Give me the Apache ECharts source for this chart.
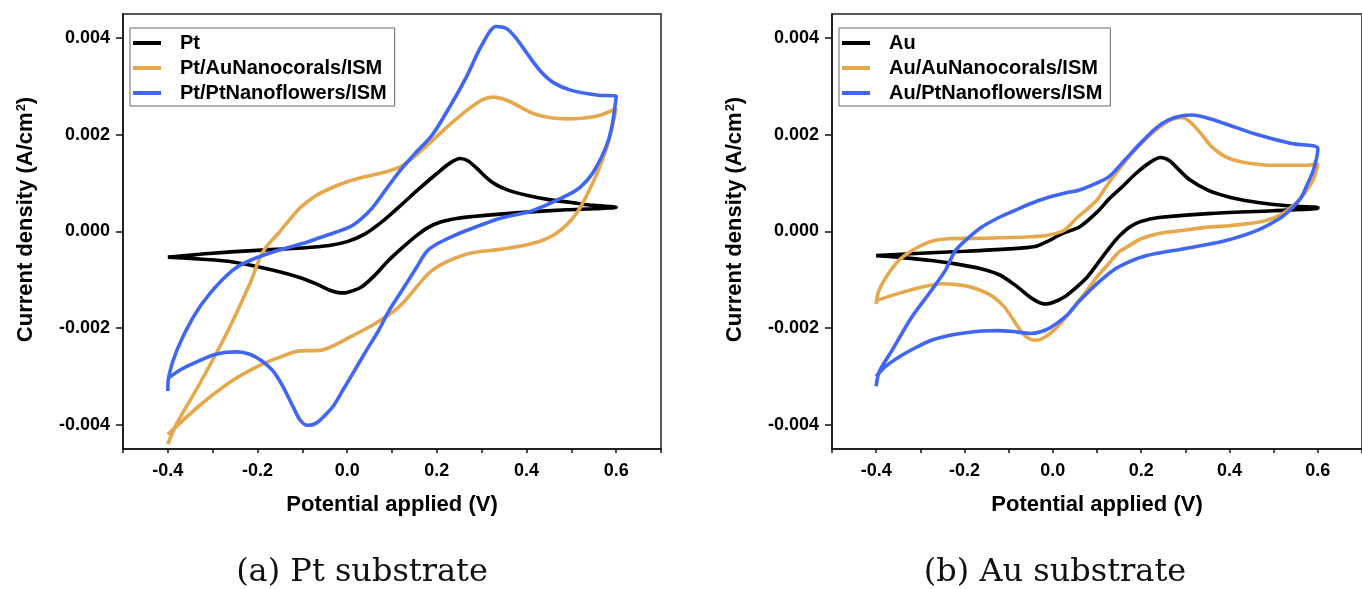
<!DOCTYPE html>
<html>
<head>
<meta charset="utf-8">
<script src="https://cdn.jsdelivr.net/npm/echarts@6.0.0/dist/echarts.min.js"></script>
<style>
  html, body { margin: 0; padding: 0; background: #fff; }
  #chart { width: 1362px; height: 589px; }
</style>
</head>
<body>
<div id="chart"></div>
<script>
// Axis ticks and labels
const xTickValues = [-0.5, -0.4, -0.3, -0.2, -0.1, 0, 0.1, 0.2, 0.3, 0.4, 0.5, 0.6, 0.7];
const xLabelValues = [-0.4, -0.2, 0, 0.2, 0.4, 0.6];
const yLabelValues = [-0.004, -0.002, 0, 0.002, 0.004];

const ptNames = ['Pt', 'Pt/AuNanocorals/ISM', 'Pt/PtNanoflowers/ISM'];
const auNames = ['Au', 'Au/AuNanocorals/ISM', 'Au/PtNanoflowers/ISM'];
const captions = ['(a) Pt substrate', '(b) Au substrate'];

// ---- (a) Pt substrate: [potential V, current density A/cm2] ----
const ptBareFwd = [[-0.40,-0.00053],[-0.30,-0.00045],[-0.20,-0.00039],[-0.10,-0.00034],[-0.04,-0.00029],[0.00,-0.00021],[0.04,-0.00005],[0.08,0.00022],[0.117,0.00052],[0.16,0.00088],[0.20,0.00120],[0.23,0.00142],[0.252,0.00151],[0.27,0.00146],[0.29,0.00130],[0.31,0.00112],[0.33,0.00098],[0.36,0.00085],[0.40,0.00075],[0.45,0.00066],[0.50,0.00060],[0.55,0.00054],[0.60,0.00050]];
const ptBareRev = [[0.60,0.00050],[0.55,0.00047],[0.489,0.00045],[0.40,0.00040],[0.34,0.00036],[0.28,0.00031],[0.244,0.00027],[0.21,0.00020],[0.18,0.00008],[0.15,-0.00012],[0.12,-0.00036],[0.09,-0.00062],[0.06,-0.00092],[0.03,-0.00116],[0.00,-0.00126],[-0.015,-0.00127],[-0.04,-0.00121],[-0.07,-0.00108],[-0.106,-0.00095],[-0.16,-0.00081],[-0.255,-0.00063],[-0.33,-0.00057],[-0.40,-0.00053]];

const ptCoralFwd = [[-0.40,-0.00440],[-0.38,-0.00397],[-0.329,-0.00315],[-0.269,-0.00211],[-0.217,-0.00108],[-0.188,-0.00042],[-0.15,0.00000],[-0.106,0.00048],[-0.07,0.00074],[-0.033,0.00091],[0.00,0.00103],[0.043,0.00114],[0.08,0.00122],[0.117,0.00133],[0.15,0.00155],[0.19,0.00188],[0.23,0.00222],[0.266,0.00250],[0.30,0.00272],[0.325,0.00278],[0.36,0.00270],[0.413,0.00245],[0.45,0.00236],[0.49,0.00233],[0.53,0.00235],[0.562,0.00240],[0.60,0.00254]];
const ptCoralRev = [[0.60,0.00254],[0.59,0.00212],[0.577,0.00168],[0.547,0.00099],[0.511,0.00037],[0.466,-0.00004],[0.413,-0.00025],[0.34,-0.00037],[0.266,-0.00047],[0.19,-0.00080],[0.117,-0.00155],[0.06,-0.00192],[0.005,-0.00219],[-0.03,-0.00236],[-0.061,-0.00246],[-0.106,-0.00247],[-0.15,-0.00260],[-0.195,-0.00277],[-0.255,-0.00308],[-0.329,-0.00360],[-0.40,-0.00420]];

const ptFlowerFwd = [[-0.40,-0.00330],[-0.398,-0.00300],[-0.38,-0.00246],[-0.344,-0.00178],[-0.306,-0.00128],[-0.255,-0.00080],[-0.217,-0.00060],[-0.157,-0.00040],[-0.10,-0.00025],[-0.068,-0.00015],[0.005,0.00009],[0.03,0.00025],[0.057,0.00050],[0.085,0.00085],[0.117,0.00125],[0.15,0.00160],[0.19,0.00200],[0.23,0.00260],[0.266,0.00320],[0.30,0.00385],[0.332,0.00424],[0.355,0.00420],[0.375,0.00402],[0.40,0.00370],[0.43,0.00333],[0.46,0.00308],[0.50,0.00292],[0.56,0.00282],[0.60,0.00280]];
const ptFlowerRev = [[0.60,0.00280],[0.59,0.00215],[0.577,0.00174],[0.547,0.00120],[0.52,0.00092],[0.489,0.00074],[0.413,0.00043],[0.34,0.00027],[0.266,0.00002],[0.23,-0.00012],[0.20,-0.00026],[0.177,-0.00042],[0.155,-0.00074],[0.125,-0.00118],[0.094,-0.00163],[0.07,-0.00205],[0.043,-0.00246],[0.015,-0.00290],[-0.01,-0.00329],[-0.03,-0.00360],[-0.046,-0.00377],[-0.07,-0.00397],[-0.088,-0.00401],[-0.105,-0.00390],[-0.122,-0.00360],[-0.145,-0.00318],[-0.166,-0.00288],[-0.19,-0.00268],[-0.217,-0.00254],[-0.245,-0.00249],[-0.269,-0.00250],[-0.30,-0.00256],[-0.329,-0.00267],[-0.37,-0.00285],[-0.40,-0.00304]];

// ---- (b) Au substrate ----
const auBareFwd = [[-0.40,-0.00050],[-0.30,-0.00045],[-0.20,-0.00041],[-0.10,-0.00036],[-0.04,-0.00031],[-0.013,-0.00021],[0.02,-0.00005],[0.061,0.00010],[0.10,0.00040],[0.128,0.00068],[0.16,0.00095],[0.188,0.00120],[0.22,0.00143],[0.244,0.00153],[0.265,0.00146],[0.285,0.00128],[0.31,0.00107],[0.352,0.00085],[0.40,0.00071],[0.45,0.00062],[0.50,0.00056],[0.55,0.00052],[0.60,0.00050]];
const auBareRev = [[0.60,0.00048],[0.50,0.00043],[0.352,0.00037],[0.24,0.00029],[0.20,0.00021],[0.175,0.00010],[0.15,-0.00010],[0.128,-0.00034],[0.10,-0.00068],[0.077,-0.00095],[0.05,-0.00118],[0.025,-0.00136],[0.00,-0.00147],[-0.017,-0.00150],[-0.035,-0.00145],[-0.051,-0.00136],[-0.087,-0.00110],[-0.12,-0.00090],[-0.163,-0.00077],[-0.22,-0.00067],[-0.275,-0.00060],[-0.34,-0.00054],[-0.40,-0.00050]];

const auCoralFwd = [[-0.40,-0.00150],[-0.395,-0.00125],[-0.378,-0.00095],[-0.349,-0.00060],[-0.32,-0.00040],[-0.30,-0.00030],[-0.275,-0.00020],[-0.237,-0.00015],[-0.15,-0.00014],[-0.05,-0.00011],[-0.013,-0.00008],[0.025,0.00002],[0.054,0.00028],[0.099,0.00064],[0.13,0.00105],[0.166,0.00147],[0.20,0.00182],[0.24,0.00215],[0.27,0.00232],[0.293,0.00236],[0.312,0.00226],[0.335,0.00203],[0.36,0.00175],[0.39,0.00155],[0.428,0.00144],[0.502,0.00137],[0.575,0.00137],[0.60,0.00140]];
const auCoralRev = [[0.60,0.00140],[0.591,0.00110],[0.575,0.00085],[0.562,0.00070],[0.53,0.00043],[0.50,0.00028],[0.464,0.00019],[0.40,0.00012],[0.352,0.00009],[0.30,0.00003],[0.24,-0.00004],[0.20,-0.00015],[0.166,-0.00033],[0.15,-0.00042],[0.125,-0.00068],[0.099,-0.00095],[0.075,-0.00125],[0.047,-0.00157],[0.02,-0.00188],[-0.006,-0.00211],[-0.025,-0.00222],[-0.042,-0.00225],[-0.06,-0.00218],[-0.073,-0.00205],[-0.09,-0.00182],[-0.109,-0.00157],[-0.135,-0.00135],[-0.163,-0.00122],[-0.20,-0.00112],[-0.252,-0.00108],[-0.30,-0.00116],[-0.349,-0.00128],[-0.40,-0.00143]];

const auFlowerFwd = [[-0.40,-0.00320],[-0.393,-0.00290],[-0.364,-0.00246],[-0.32,-0.00178],[-0.275,-0.00122],[-0.243,-0.00080],[-0.221,-0.00040],[-0.19,-0.00012],[-0.163,0.00008],[-0.12,0.00030],[-0.087,0.00043],[-0.05,0.00058],[-0.013,0.00070],[0.03,0.00080],[0.061,0.00086],[0.099,0.00100],[0.128,0.00114],[0.165,0.00150],[0.204,0.00188],[0.235,0.00215],[0.262,0.00231],[0.29,0.00239],[0.316,0.00241],[0.35,0.00235],[0.39,0.00223],[0.464,0.00200],[0.54,0.00182],[0.60,0.00172]];
const auFlowerRev = [[0.60,0.00172],[0.591,0.00130],[0.575,0.00095],[0.562,0.00070],[0.54,0.00047],[0.517,0.00029],[0.464,0.00003],[0.39,-0.00019],[0.30,-0.00035],[0.211,-0.00050],[0.175,-0.00062],[0.137,-0.00080],[0.10,-0.00108],[0.061,-0.00143],[0.03,-0.00175],[-0.006,-0.00199],[-0.03,-0.00208],[-0.051,-0.00211],[-0.09,-0.00207],[-0.125,-0.00205],[-0.16,-0.00206],[-0.20,-0.00210],[-0.24,-0.00216],[-0.275,-0.00225],[-0.31,-0.00240],[-0.349,-0.00260],[-0.38,-0.00280],[-0.40,-0.00300]];

const colors = ['#000000', '#E5A84C', '#4066F5'];
const sansFont = "'Liberation Sans', Arial, sans-serif";
const serifFont = "'DejaVu Serif', serif";

// One closed voltammogram: forward sweep followed by the return sweep
function loop(fwd, rev) { return fwd.concat(rev); }

const ptLoops = [loop(ptBareFwd, ptBareRev), loop(ptCoralFwd, ptCoralRev), loop(ptFlowerFwd, ptFlowerRev)];
const auLoops = [loop(auBareFwd, auBareRev), loop(auCoralFwd, auCoralRev), loop(auFlowerFwd, auFlowerRev)];

const chart = echarts.init(document.getElementById('chart'), null, { renderer: 'canvas' });

const grids = [
  { left: 123, top: 14, width: 538, height: 435 },
  { left: 832, top: 14, width: 537, height: 435 }
];

function xAxisFor(i) {
  return {
    gridIndex: i, type: 'value', min: -0.5, max: 0.7,
    name: 'Potential applied (V)', nameLocation: 'middle', nameGap: 45,
    nameTextStyle: { fontFamily: sansFont, fontWeight: 'bold', fontSize: 22, color: '#000' },
    axisLine: { onZero: false, lineStyle: { color: '#111', width: 1.5 } },
    axisTick: { customValues: xTickValues, length: 4, lineStyle: { color: '#111', width: 1.5 } },
    axisLabel: {
      customValues: xLabelValues, margin: 13,
      formatter: v => v.toFixed(1),
      fontFamily: sansFont, fontWeight: 'bold', fontSize: 18, color: '#000'
    },
    splitLine: { show: false }
  };
}

function yAxisFor(i) {
  return {
    gridIndex: i, type: 'value', min: -0.0045, max: 0.0045,
    name: 'Current density (A/cm{sup|2})', nameLocation: 'middle', nameGap: 86,
    nameTextStyle: {
      fontFamily: sansFont, fontWeight: 'bold', fontSize: 22, color: '#000',
      padding: [0, 0, 0, 24],
      rich: { sup: { fontFamily: sansFont, fontWeight: 'bold', fontSize: 13, color: '#000', verticalAlign: 'top', padding: [0, 0, 6, 1] } }
    },
    axisLine: { onZero: false, lineStyle: { color: '#111', width: 1.5 } },
    axisTick: { customValues: yLabelValues, length: 7, lineStyle: { color: '#111', width: 1.5 } },
    axisLabel: {
      customValues: yLabelValues, margin: 13,
      formatter: v => v.toFixed(3),
      fontFamily: sansFont, fontWeight: 'bold', fontSize: 18, color: '#000'
    },
    splitLine: { show: false }
  };
}

function legendFor(names, left) {
  return {
    data: names, orient: 'vertical', left: left, top: 28,
    icon: 'rect', itemWidth: 28, itemHeight: 4, itemGap: 5,
    padding: [5, 8, 3, 3],
    borderColor: '#666', borderWidth: 1, backgroundColor: '#fff',
    textStyle: { fontFamily: sansFont, fontWeight: 'bold', fontSize: 20, color: '#000', lineHeight: 20, padding: [0, 0, 0, 14] }
  };
}

function seriesFor(names, loops, gi) {
  return names.map((n, k) => ({
    name: n, type: 'line', xAxisIndex: gi, yAxisIndex: gi,
    data: loops[k], smooth: 0.3, symbol: 'none', showSymbol: false,
    lineStyle: { color: colors[k], width: 3.6 }, itemStyle: { color: colors[k] },
    clip: true, animation: false
  }));
}

chart.setOption({
  animation: false,
  backgroundColor: '#fff',
  grid: grids.map(g => Object.assign({ show: true, borderColor: '#222', borderWidth: 1.5, backgroundColor: 'transparent' }, g)),
  xAxis: [xAxisFor(0), xAxisFor(1)],
  yAxis: [yAxisFor(0), yAxisFor(1)],
  legend: [legendFor(ptNames, 130), legendFor(auNames, 839)],
  series: seriesFor(ptNames, ptLoops, 0).concat(seriesFor(auNames, auLoops, 1)),
  graphic: [
    { type: 'text', x: 362, y: 573, style: { text: captions[0], font: '32px ' + serifFont, fill: '#111', align: 'center', verticalAlign: 'middle' } },
    { type: 'text', x: 1055, y: 573, style: { text: captions[1], font: '32px ' + serifFont, fill: '#111', align: 'center', verticalAlign: 'middle' } }
  ]
});
</script>
</body>
</html>
